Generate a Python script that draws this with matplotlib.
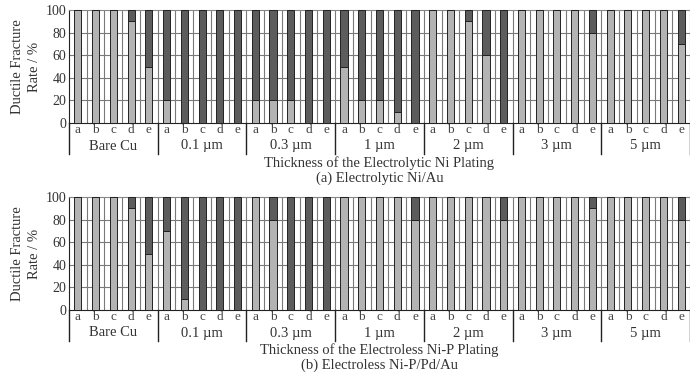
import matplotlib
matplotlib.use("Agg")
import matplotlib.pyplot as plt
import numpy as np

plt.rcParams['font.family'] = ['Liberation Serif', 'DejaVu Serif']

groups = ["Bare Cu", "0.1 \u00b5m", "0.3 \u00b5m", "1 \u00b5m", "2 \u00b5m", "3 \u00b5m", "5 \u00b5m"]
letters = ["a", "b", "c", "d", "e"]

# ductile fracture rate (%) for each group, samples a..e
ductile_a = [100, 100, 100, 90, 50,
             20, 0, 0, 0, 0,
             20, 20, 20, 0, 0,
             50, 20, 20, 10, 0,
             100, 100, 90, 60, 0,
             100, 100, 100, 100, 80,
             100, 100, 100, 100, 70]
ductile_b = [100, 100, 100, 90, 50,
             70, 10, 0, 0, 0,
             100, 80, 0, 0, 0,
             100, 100, 100, 100, 80,
             100, 100, 100, 100, 80,
             100, 100, 100, 100, 90,
             100, 100, 100, 100, 80]

xlabel_a = "Thickness of the Electrolytic Ni Plating"
xlabel_b = "Thickness of the Electroless Ni-P Plating"
title_a = "(a) Electrolytic Ni/Au"
title_b = "(b) Electroless Ni-P/Pd/Au"

LIGHT = "#b3b3b3"
DARK = "#5c5c5c"
TXT = "#333333"

fig = plt.figure(figsize=(6.9, 3.79), dpi=100)

def draw_panel(rect, values, xlabel, title):
    ax = fig.add_axes(rect)
    n = len(values)
    x = np.arange(n)
    vals = np.array(values)
    ax.bar(x, vals, width=0.4, color=LIGHT, edgecolor="#222222", linewidth=0.7, zorder=3)
    ax.bar(x, 100 - vals, bottom=vals, width=0.4, color=DARK, edgecolor="#222222", linewidth=0.7, zorder=3)
    ax.set_xlim(-0.5, n - 0.5)
    ax.set_ylim(0, 100)
    ax.set_yticks([0, 20, 40, 60, 80, 100])
    ax.tick_params(axis='y', length=0, labelsize=10, pad=2, labelcolor=TXT)
    ax.set_xticks(x)
    ax.set_xticklabels(letters * len(groups), fontsize=9.5, color="#444444")
    ax.tick_params(axis='x', length=0, pad=0.5)
    for yv in [20, 40, 60, 80]:
        ax.axhline(yv, color="#7a7a7a", linewidth=0.8, zorder=1)
    for xv in np.arange(0.5, n - 0.5, 1.0):
        ax.axvline(xv, color="#7a7a7a", linewidth=0.8, zorder=1)
    for s in ["top", "right"]:
        ax.spines[s].set_color("#888888")
    ax.spines["left"].set_color("#222222")
    ax.spines["bottom"].set_color("#222222")
    h = rect[3] * 379
    trans = ax.get_xaxis_transform()
    for i, g in enumerate(groups):
        ax.text(i * 5 + 2, -23 / h, g, transform=trans, ha="center", va="center", fontsize=10.5, color=TXT)
    for b in np.arange(-0.5, n, 5):
        ax.plot([b, b], [0, -31 / h], transform=trans, color="#222222", linewidth=1.0, clip_on=False)
    ax.text(0.5, -40 / h, xlabel, transform=ax.transAxes, ha="center", va="center", fontsize=10.5, color=TXT)
    ax.text(0.5, -55 / h, title, transform=ax.transAxes, ha="center", va="center", fontsize=10.5, color=TXT)
    cy = rect[1] + rect[3] / 2
    fig.text(18 / 690, cy, "Ductile Fracture", rotation=90, ha="center", va="center", fontsize=10.5, color=TXT)
    fig.text(34 / 690, cy, "Rate / %", rotation=90, ha="center", va="center", fontsize=10.5, color=TXT)
    return ax

draw_panel([69 / 690, 1 - 123 / 379, 621 / 690, 113 / 379], ductile_a, xlabel_a, title_a)
draw_panel([69 / 690, 1 - 310 / 379, 621 / 690, 113 / 379], ductile_b, xlabel_b, title_b)

fig.savefig("out.png", dpi=100)
